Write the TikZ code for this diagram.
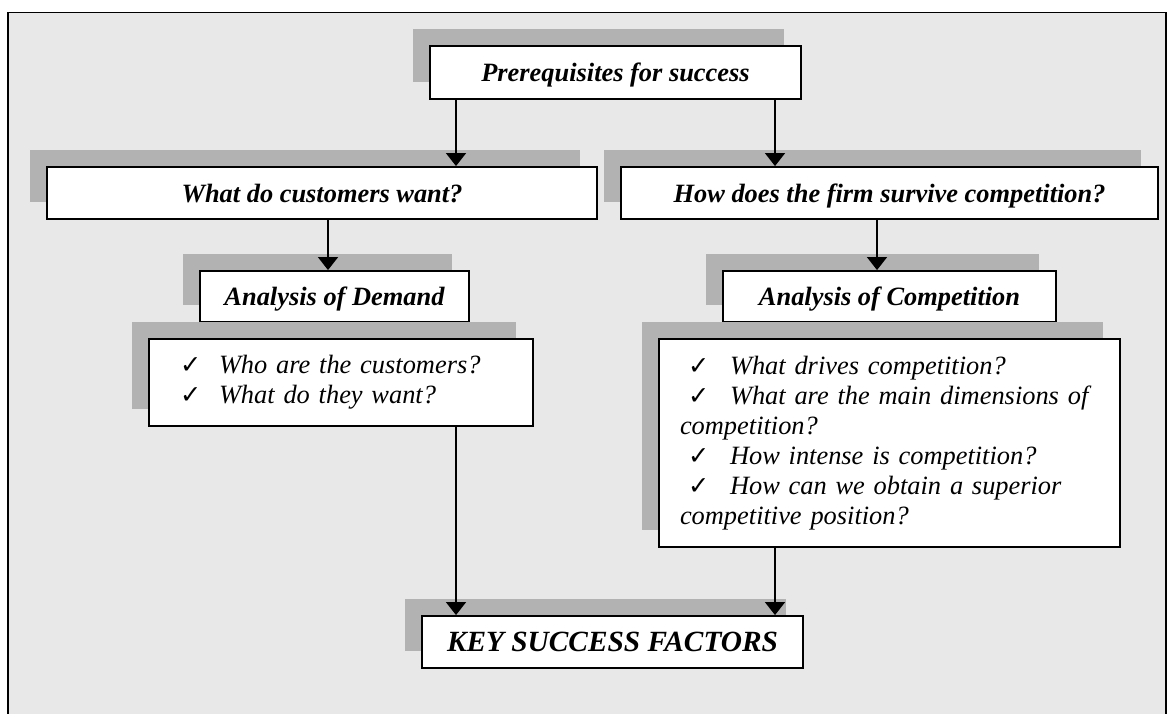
\documentclass[tikz,border=0pt]{standalone}
\usepackage{fontspec}
\setmainfont{Liberation Serif}
\newfontfamily\symfont{DejaVu Sans}
\usetikzlibrary{arrows.meta,shadows}

\definecolor{panelbg}{RGB}{232,232,232}
\definecolor{shadegray}{RGB}{178,178,178}

% check mark followed by a fixed gap, so the question text lines up
\newcommand\tickmark[2]{\hspace*{#1}\makebox[#2][l]{\symfont\fontsize{19pt}{19pt}\selectfont ✓}}

\tikzset{
  sz/.style 2 args={minimum width=#1*0.75pt, minimum height=#2*0.75pt},
  box/.style={draw=black, line width=1.4pt, fill=white, inner sep=0pt,
    drop shadow={shadow xshift=-12.4pt, shadow yshift=12.4pt,
                 fill=shadegray, opacity=1}},
  title/.style={box, text depth=0pt,
    font=\bfseries\itshape\fontsize{19.8pt}{22pt}\selectfont},
  listbox/.style={box, align=left,
    font=\itshape\fontsize{19.8pt}{22.5pt}\selectfont},
  link/.style={-{Triangle[width=15pt,length=9.75pt]}, line width=1.1pt, black}
}

\begin{document}
\begin{tikzpicture}[x=0.75pt, y=-0.75pt]
\useasboundingbox (0,0) rectangle (1176,713);
\fill[white] (0,0) rectangle (1176,713);

% framed grey panel, running off the lower edge
\begin{scope}
  \clip (0,0) rectangle (1176,713);
  \draw[line width=1.1pt, fill=panelbg] (8,12.5) rectangle (1166,760);
\end{scope}

% column positions of the connectors
\coordinate (cL) at (456,0);
\coordinate (cR) at (775,0);
\coordinate (cD) at (328,0);
\coordinate (cC) at (877,0);

\node[title, sz={371}{53}] (prereq) at (615.5,72.5) {Prerequisites for success};

\node[title, sz={550}{52}] (wants) at (322,193) {What do customers want?};
\node[title, sz={537}{52}] (compete) at (889.5,193) {How does the firm survive competition?};

\node[title, sz={269}{51}] (demand) at (334.5,296.5) {Analysis of Demand};
\node[title, sz={333}{51}] (rivalry) at (889.5,296.5) {Analysis of Competition};

\node[listbox, sz={384}{87}, inner xsep=23.25pt, text width=241.5pt] (dlist) at (341,382.5)
  {\tickmark{0pt}{29.25pt}Who are the customers?\\
   \tickmark{0pt}{29.25pt}What do they want?};

\node[listbox, sz={461}{208}, inner xsep=15.75pt, text width=314.25pt] (clist) at (889.5,443)
  {\tickmark{6pt}{31.5pt}What drives competition?\\
   \tickmark{6pt}{31.5pt}What are the main dimensions of\\
   competition?\\
   \tickmark{6pt}{31.5pt}How intense is competition?\\
   \tickmark{6pt}{31.5pt}How can we obtain a superior\\
   competitive position?};

\node[title, sz={381}{52}, font=\bfseries\itshape\fontsize{22pt}{24pt}\selectfont] (ksf) at (612.5,642)
  {KEY SUCCESS FACTORS};

% connectors
\draw[link] (prereq.south -| cL) -- (wants.north -| cL);
\draw[link] (prereq.south -| cR) -- (compete.north -| cR);
\draw[link] (wants.south -| cD) -- (demand.north -| cD);
\draw[link] (compete.south -| cC) -- (rivalry.north -| cC);
\draw[link] (dlist.south -| cL) -- (ksf.north -| cL);
\draw[link] (clist.south -| cR) -- (ksf.north -| cR);
\end{tikzpicture}
\end{document}
